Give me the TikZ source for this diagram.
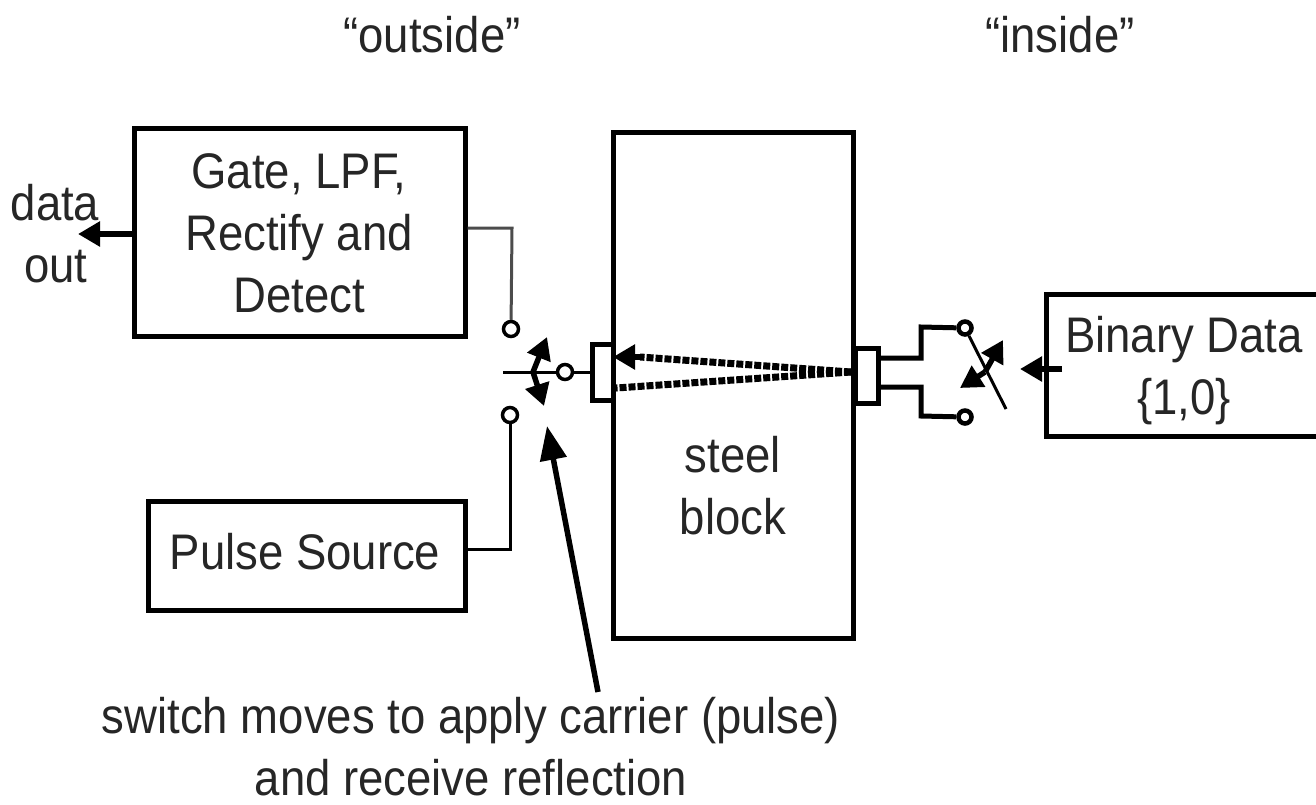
\documentclass[tikz,border=0pt]{standalone}
\usepackage{fontspec}
\setmainfont{Liberation Sans}
\usetikzlibrary{arrows.meta}
\tikzset{
  blockbox/.style={draw,line width=5pt,inner sep=0pt},
  contact/.style={draw,circle,line width=3.5pt,minimum size=15pt,inner sep=0pt},
  lbl/.style={font=\fontsize{50}{62}\selectfont,align=center,inner sep=0pt,xscale=.91,text=black!85},
  wire/.style={line width=3pt},
  tiparrow/.style={line width=5.5pt,-{Triangle[length=22pt,width=24pt]}},
  pulse/.style={line width=7pt,dotted}
}
\begin{document}
\begin{tikzpicture}[x=1pt,y=-1pt]
  \useasboundingbox (0,0) rectangle (1316,804);
  \node[blockbox,minimum width=331pt,minimum height=208pt] (gate) at (299.5,232) {};
  \node[blockbox,minimum width=317pt,minimum height=109pt] (source) at (306.5,555.5) {};
  \node[blockbox,minimum width=240pt,minimum height=506pt] (steel) at (733,385) {};
  \node[blockbox,minimum width=290pt,minimum height=142pt] (binary) at (1191,365) {};
  \node[blockbox,minimum width=21pt,minimum height=56pt] (txleft) at (602.5,372) {};
  \node[blockbox,minimum width=23pt,minimum height=55pt] (txright) at (866.5,375.5) {};

  \node[lbl] (gatetxt) at (299,233) {Gate, LPF,\\Rectify and\\Detect};
  \node[lbl] (sourcetxt) at (305,552) {Pulse Source};
  \node[lbl] (steeltxt) at (733,486) {steel\\block};
  \node[lbl] (binarytxt) at (1184,371) {Binary Data\\\{1,0\}};
  \node[lbl] (datatxt) at (55,203) {data};
  \node[lbl] (outtxt) at (56,267) {out};
  \node[lbl] (outside) at (432,35) {“outside”};
  \node[lbl] (inside) at (1060,35) {“inside”};
  \node[lbl] (switchtxt) at (471,747) {switch moves to apply carrier (pulse)\\and receive reflection};

  \node[contact] (cgate) at (511,329) {};
  \node[contact] (csource) at (510,415) {};
  \node[contact] (ccommon) at (565,372) {};
  \node[contact,minimum size=13pt,line width=4.5pt] (cone) at (965,328) {};
  \node[contact,minimum size=13pt,line width=4.5pt] (czero) at (965,417) {};

  \coordinate (swleft) at (503,372);
  \coordinate (swmid) at (533,372);
  \coordinate (swup) at (547,337);
  \coordinate (swdown) at (544,406);
  \coordinate (swfoot) at (1006,409);
  \coordinate (xmid) at (985,372);
  \coordinate (xup) at (1003,340);
  \coordinate (xdown) at (960,388);
  \coordinate (dataend) at (78,234);
  \coordinate (binin) at (1020,369);
  \coordinate (noteend) at (598,692);
  \coordinate (notetip) at (547,426);
  \coordinate (echo) at (851,372);

  \draw[wire,black!70] (gate.east|-0,228) -- (512,228) -- (cgate);
  \draw[wire] (source.east|-0,549) -- (510,549) -- (csource);
  \draw[wire] (swleft) -- (ccommon) -- (txleft.west);
  \draw[tiparrow] (swmid) -- (swup);
  \draw[tiparrow] (swmid) -- (swdown);

  \draw[wire,line width=5pt] (878,358) -- (921,358) -- (921,327) -- (cone);
  \draw[wire,line width=5pt] (878,387) -- (921,387) -- (921,416) -- (czero);
  \draw[wire] (cone) -- (swfoot);
  \draw[tiparrow] (xmid) -- (xup);
  \draw[tiparrow] (xmid) -- (xdown);

  \draw[tiparrow] (gate.west|-0,234) -- (dataend);
  \draw[tiparrow] (1062,369) -- (binin);
  \draw[tiparrow,-{Triangle[length=34pt,width=26pt]}] (noteend) -- (notetip);

  \draw[pulse] (echo) -- (640,357);
  \draw[tiparrow] (640,357) -- (613,357);
  \draw[pulse] (echo) -- (616,388);
\end{tikzpicture}
\end{document}
